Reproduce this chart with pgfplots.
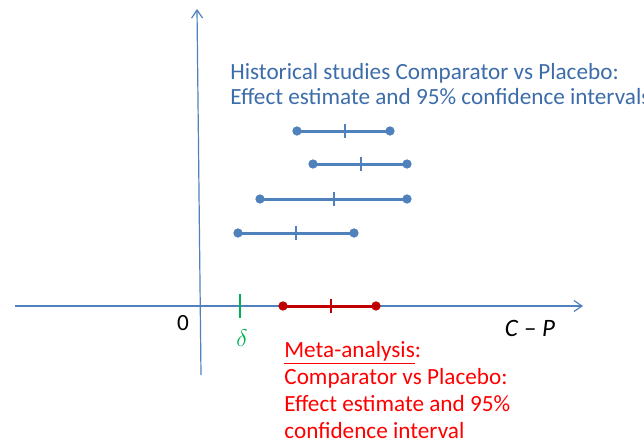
\documentclass[border=0pt]{standalone}
\usepackage{pgfplots}
\pgfplotsset{compat=1.18}
\usepackage{fontspec}
\setmainfont{Carlito}
\usetikzlibrary{arrows.meta}
\definecolor{lblue}{RGB}{79,129,189}
\definecolor{tblue}{RGB}{60,108,170}
\definecolor{dred}{RGB}{192,0,0}
\definecolor{tred}{RGB}{255,0,0}
\definecolor{mgreen}{RGB}{0,176,80}
\begin{document}
\begin{tikzpicture}
\useasboundingbox (0,0) rectangle (322pt,220.5pt);
\clip (0,0) rectangle (322pt,220.5pt);
\begin{axis}[
  x=0.5pt, y=0.5pt,
  xmin=0, xmax=644, ymin=0, ymax=441,
  hide axis, clip=false,
  font=\fontsize{11.6}{12.5}\selectfont,
]
% axes
\addplot[lblue, line width=0.6pt, -{Straight Barb[length=4pt,width=5.5pt]}] coordinates {(15,135) (583,135)};
\addplot[lblue, line width=0.6pt, -{Straight Barb[length=4pt,width=5.5pt]}] coordinates {(201,66) (197,432)};
% historical intervals
\addplot[lblue, line width=1.5pt, mark=*, mark size=2.1pt, mark options={line width=0.4pt}] coordinates {(297,310) (390,310)};
\addplot[lblue, line width=1.5pt, mark=*, mark size=2.1pt, mark options={line width=0.4pt}] coordinates {(313,277) (407,277)};
\addplot[lblue, line width=1.5pt, mark=*, mark size=2.1pt, mark options={line width=0.4pt}] coordinates {(260,242) (407,242)};
\addplot[lblue, line width=1.5pt, mark=*, mark size=2.1pt, mark options={line width=0.4pt}] coordinates {(238,208) (354,208)};
\addplot[lblue, only marks, mark=|, mark size=3.6pt, mark options={line width=1.2pt}] coordinates {(345,310) (361,277) (334,242) (296,208)};
% meta-analysis
\addplot[dred, line width=1.5pt, mark=*, mark size=2.1pt, mark options={line width=0.4pt}] coordinates {(283,135) (376,135)};
\addplot[dred, only marks, mark=|, mark size=3.6pt, mark options={line width=1.2pt}] coordinates {(331,135)};
% delta
\addplot[mgreen, only marks, mark=|, mark size=6pt, mark options={line width=1.2pt}] coordinates {(240,135)};
% labels
\node[anchor=base west, text=tblue, inner sep=0pt] at (axis cs:230,362) {Historical studies Comparator vs Placebo:};
\node[anchor=base west, text=tblue, inner sep=0pt] at (axis cs:230,337) {Effect estimate and 95\% confidence intervals};
\node[anchor=base west, text=tred, inner sep=0pt] at (axis cs:284,84) {\underline{Meta-analysis}:};
\node[anchor=base west, text=tred, inner sep=0pt] at (axis cs:284,57) {Comparator vs Placebo:};
\node[anchor=base west, text=tred, inner sep=0pt] at (axis cs:284,30) {Effect estimate and 95\%};
\node[anchor=base west, text=tred, inner sep=0pt] at (axis cs:284,3) {confidence interval};
\node[inner sep=0pt] at (axis cs:183,118) {0};
\node[inner sep=0pt, text=mgreen, font=\fontsize{13}{14}\selectfont] at (axis cs:242,103) {$\delta$};
\node[inner sep=0pt, font=\fontsize{12.5}{14}\selectfont] at (axis cs:530,113) {\textit{C} – \textit{P}};
\end{axis}
\end{tikzpicture}
\end{document}
